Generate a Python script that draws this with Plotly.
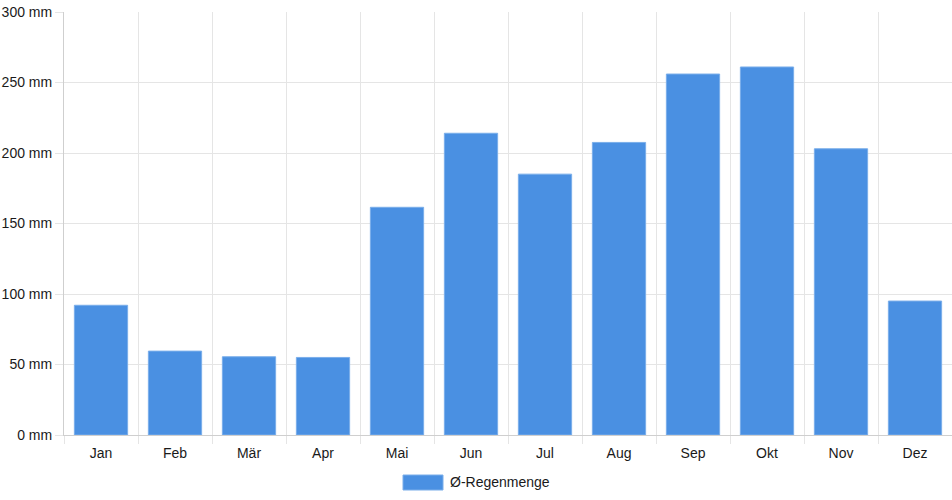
import plotly.graph_objs as go

months = ['Jan', 'Feb', 'Mär', 'Apr', 'Mai', 'Jun',
          'Jul', 'Aug', 'Sep', 'Okt', 'Nov', 'Dez']
rain_mm = [92, 59.5, 55.5, 55, 161.5, 214, 185, 207.5, 256, 261, 203, 95]
series_name = 'Ø-Regenmenge'

bar_color = '#4a90e2'
grid_color = '#e5e5e5'
font = dict(family='Liberation Sans, Arial, sans-serif', size=14, color='#1a1a1a')

data = [go.Bar(x=months,
               y=rain_mm,
               name=series_name,
               marker=dict(color=bar_color,
                           line=dict(color='#7aaeea', width=1)),
               showlegend=False)]

layout = go.Layout(width=952, height=500,
                   margin=dict(l=64, r=0, t=12, b=65, autoexpand=False),
                   paper_bgcolor='white',
                   plot_bgcolor='white',
                   font=font,
                   bargap=0.28,
                   xaxis=dict(tickson='boundaries',
                              ticks='outside',
                              ticklen=8,
                              ticklabelstandoff=5,
                              tickcolor=grid_color,
                              showgrid=True,
                              gridcolor=grid_color,
                              showline=True,
                              linecolor='#cfcfcf',
                              linewidth=1,
                              automargin=False),
                   yaxis=dict(range=[0, 300],
                              dtick=50,
                              ticksuffix=' mm',
                              ticks='outside',
                              ticklen=8,
                              tickcolor=grid_color,
                              showgrid=True,
                              gridcolor=grid_color,
                              zeroline=False,
                              showline=True,
                              linecolor='#cfcfcf',
                              linewidth=1,
                              automargin=False),
                   shapes=[dict(type='rect', xref='paper', yref='paper',
                                x0=(403 - 64) / 888, x1=(443 - 64) / 888,
                                y0=-(475 - 435) / 423, y1=-(490 - 435) / 423,
                                fillcolor=bar_color,
                                line=dict(color='#7aaeea', width=1))],
                   annotations=[dict(text=series_name, xref='paper', yref='paper',
                                     x=(448 - 64) / 888, y=-(482 - 435) / 423,
                                     xanchor='left', yanchor='middle',
                                     showarrow=False, font=font)],
                   hovermode='closest')

fig = go.Figure(data=data, layout=layout)
# the page body has an 8px default margin; drop it so the chart sits at 0,0
fig.write_html('out.html',
               config={'displayModeBar': False},
               post_script="document.body.style.margin='0';")
